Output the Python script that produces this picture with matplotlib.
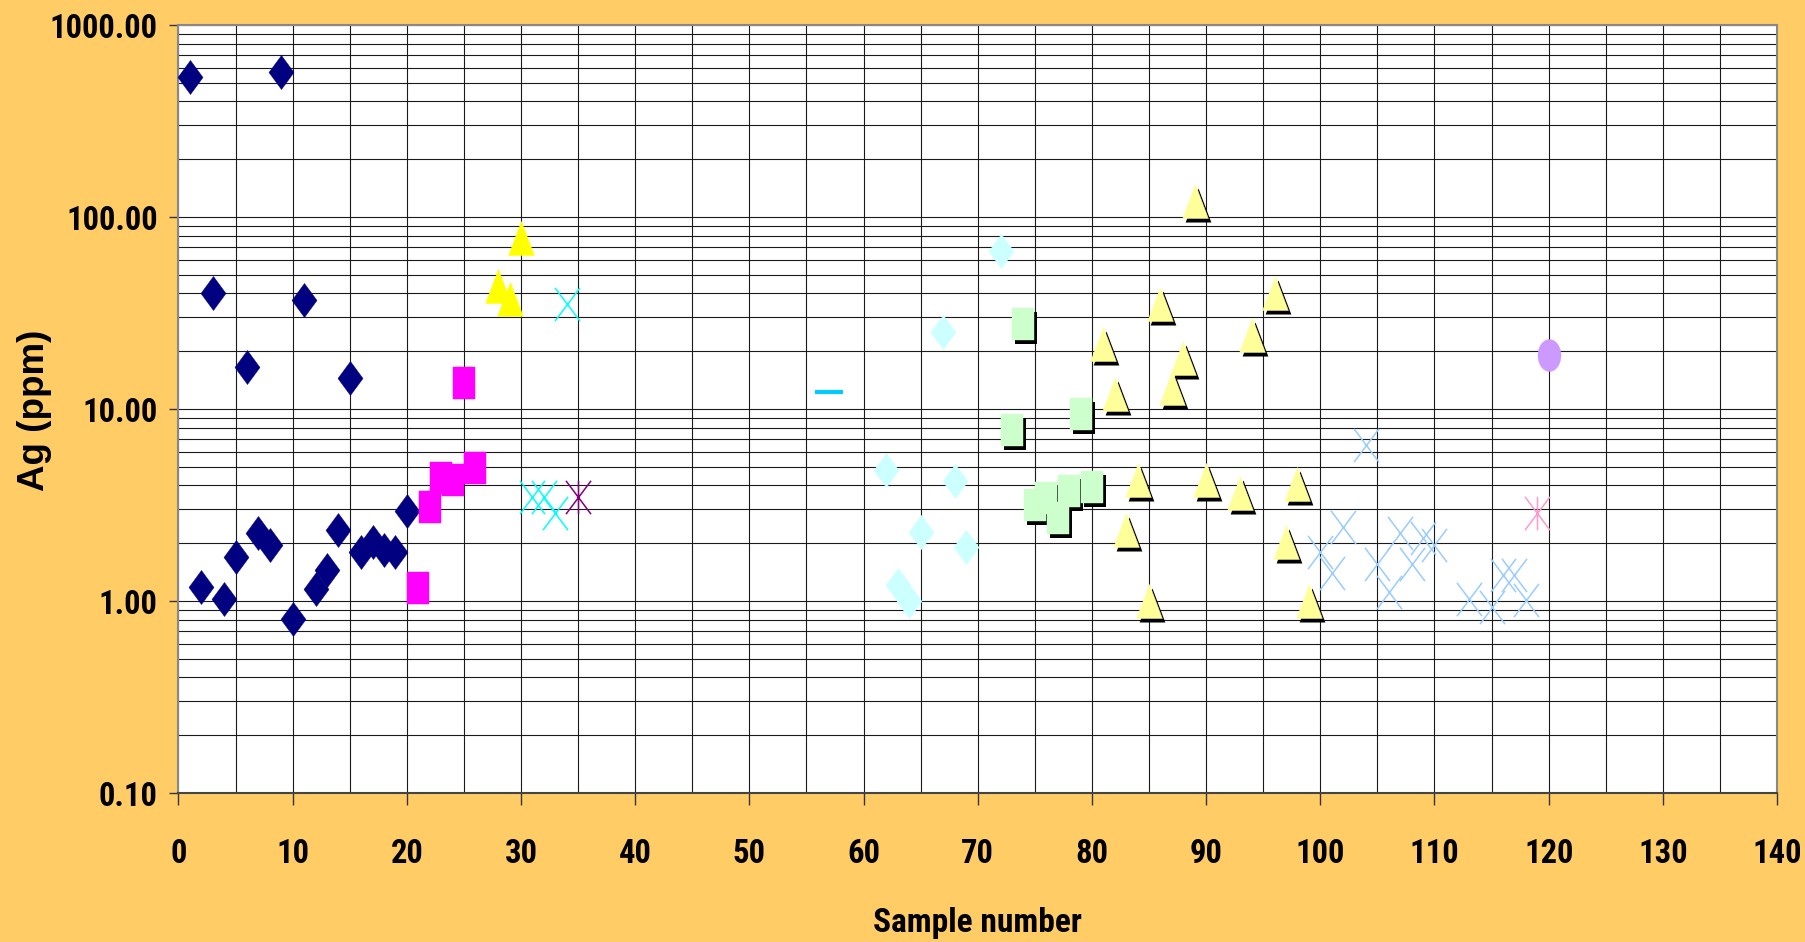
import numpy as np
import matplotlib
matplotlib.use("Agg")
import matplotlib.pyplot as plt
from matplotlib import font_manager
from matplotlib.path import Path
from matplotlib.transforms import offset_copy
from matplotlib.ticker import FixedLocator, MultipleLocator, FormatStrFormatter

# --- data (sample number, Ag ppm) ---
navy_x = list(range(1, 21))
navy_y = [537, 1.18, 40, 1.03, 1.69, 16.5, 2.25, 1.95, 566, 0.81,
          37, 1.16, 1.45, 2.35, 14.5, 1.79, 2.03, 1.84, 1.79, 2.96]
magenta_x = [21, 22, 23, 24, 25, 26]
magenta_y = [1.17, 3.08, 4.35, 4.25, 13.6, 4.9]
yellow_x = [28, 29, 30]
yellow_y = [43.7, 37.2, 78]
cyanx_x = [31, 32, 33, 34]
cyanx_y = [3.47, 3.47, 2.88, 35.2]
purple_x = [35]
purple_y = [3.47]
dash_x = [57]
dash_y = [12.2]
ltcyan_x = [62, 63, 64, 65, 67, 68, 69, 72]
ltcyan_y = [4.84, 1.21, 1.0, 2.30, 25.2, 4.2, 1.90, 66.2]
green_x = [73, 74, 75, 76, 77, 78, 79, 80]
green_y = [7.8, 27.7, 3.16, 3.42, 2.69, 3.73, 9.46, 3.94]
paley_x = [81, 82, 83, 84, 85, 86, 87, 88, 89, 90, 93, 94, 96, 97, 98, 99]
paley_y = [21.8, 11.9, 2.35, 4.28, 1.0, 35.1, 12.9, 18.5, 121, 4.28,
           3.65, 24.3, 40, 2.04, 4.06, 1.0]
ltblue_x = [100, 101, 102, 104, 105, 106, 107, 108, 109, 110, 113, 115, 116, 117, 118]
ltblue_y = [1.80, 1.40, 2.43, 6.53, 1.56, 1.12, 2.26, 1.56, 2.13, 1.95,
            1.03, 0.93, 1.37, 1.37, 1.01]
pink_x = [119]
pink_y = [2.88]
circle_x = [120]
circle_y = [19.0]

yticks = [0.1, 1, 10, 100, 1000]
xticks = list(range(0, 141, 10))


# look for a narrow / condensed bold face (the chart uses Arial Narrow bold)
def find_narrow():
    prefs = ['liberation sans narrow', 'arial narrow', 'roboto condensed',
             'open sans condensed', 'noto sans display', 'noto sans']
    cands = []
    for f in font_manager.fontManager.ttflist:
        name = f.name.lower()
        fn = f.fname.lower()
        narrowish = ('narrow' in name or 'condensed' in name or 'narrow' in fn
                     or 'condensed' in fn or str(f.stretch) in ('condensed', 'semi-condensed',
                                                                 'extra-condensed'))
        w = f.weight if isinstance(f.weight, int) else (700 if 'bold' in str(f.weight) else 400)
        if narrowish and w >= 600 and 'italic' not in fn and 'oblique' not in fn:
            rank = next((i for i, p in enumerate(prefs) if p in name or p in fn), len(prefs))
            cands.append((rank, 'semi' in fn, f.fname))
    if cands:
        cands.sort()
        return font_manager.FontProperties(fname=cands[0][2])
    return None

narrow_fp = find_narrow()

def style_text(t, size):
    if narrow_fp is not None:
        t.set_fontproperties(narrow_fp)
        t.set_fontsize(size)
    else:
        t.set_family(['Liberation Sans', 'DejaVu Sans'])
        t.set_fontweight('bold')
        t.set_fontsize(size * 0.8)

# --- tall (stretched) marker shapes ---
diamond = Path([(0, 1), (0.735, 0), (0, -1), (-0.735, 0), (0, 1)],
               [Path.MOVETO, Path.LINETO, Path.LINETO, Path.LINETO, Path.CLOSEPOLY])
square = Path([(-0.72, -1), (0.72, -1), (0.72, 1), (-0.72, 1), (-0.72, -1)],
              [Path.MOVETO, Path.LINETO, Path.LINETO, Path.LINETO, Path.CLOSEPOLY])
triangle = Path([(0, 1), (0.755, -1), (-0.755, -1), (0, 1)],
                [Path.MOVETO, Path.LINETO, Path.LINETO, Path.CLOSEPOLY])
cross = Path([(-0.75, -1), (0.75, 1), (-0.75, 1), (0.75, -1)],
             [Path.MOVETO, Path.LINETO, Path.MOVETO, Path.LINETO])
star = Path([(-0.75, -1), (0.75, 1), (-0.75, 1), (0.75, -1), (0, -1), (0, 1)],
            [Path.MOVETO, Path.LINETO, Path.MOVETO, Path.LINETO, Path.MOVETO, Path.LINETO])
uc = Path.unit_circle()
ellipse = Path(uc.vertices * np.array([0.72, 1.0]), uc.codes)

fig = plt.figure(figsize=(18.06, 9.42), dpi=100, facecolor='#FFCC66')
ax = fig.add_axes([178.5 / 1806, 1 - 793 / 942, (1777 - 178.5) / 1806, (793 - 25) / 942])
ax.set_facecolor('white')
ax.set_yscale('log')
ax.set_xlim(0, 140)
ax.set_ylim(0.1, 1000)

shadow = offset_copy(ax.transData, fig=fig, x=3, y=-4, units='dots')

def filled(x, y, path, color, ms, shade=False):
    if shade:
        ax.plot(x, y, ls='none', marker=path, ms=ms, mfc='black', mec='black',
                mew=0, transform=shadow, zorder=3, clip_on=False)
    ax.plot(x, y, ls='none', marker=path, ms=ms, mfc=color, mec=color,
            mew=0.3, zorder=4, clip_on=False)

def lines(x, y, path, color, ms, mew=1.1):
    ax.plot(x, y, ls='none', marker=path, ms=ms, mfc='none', mec=color,
            mew=mew, zorder=4, clip_on=False)

filled(navy_x, navy_y, diamond, '#000080', 24.5)
filled(magenta_x, magenta_y, square, '#FF00FF', 23)
filled(yellow_x, yellow_y, triangle, '#FFFF00', 24.5)
lines(cyanx_x, cyanx_y, cross, '#00FFFF', 24)
lines(purple_x, purple_y, star, '#800080', 24)
ax.plot(dash_x, dash_y, ls='none', marker='_', ms=19.5, mec='#00CCFF', mew=3, zorder=4)
filled(ltcyan_x, ltcyan_y, diamond, '#CCFFFF', 24.5)
filled(green_x, green_y, square, '#CCFFCC', 23, shade=True)
filled(paley_x, paley_y, triangle, '#FFFF99', 24.5, shade=True)
lines(ltblue_x, ltblue_y, cross, '#99CCFF', 24)
lines(pink_x, pink_y, star, '#FF99CC', 24)
filled(circle_x, circle_y, ellipse, '#CC99FF', 23)

# axes, ticks, grid
ax.yaxis.set_major_locator(FixedLocator(yticks))
ax.yaxis.set_major_formatter(FormatStrFormatter('%.2f'))
ax.yaxis.set_minor_locator(FixedLocator([m * d for d in [0.1, 1, 10, 100] for m in range(2, 10)]))
ax.xaxis.set_major_locator(FixedLocator(xticks))
ax.xaxis.set_minor_locator(MultipleLocator(5))
ax.grid(which='both', color='#1a1a1a', lw=0.8, zorder=1)
ax.set_axisbelow(True)
ax.tick_params(which='minor', length=0)
ax.tick_params(axis='y', which='major', direction='out', length=6.5, width=1,
               color='#333333', pad=8.5)
ax.tick_params(axis='x', which='major', direction='out', length=8.6, width=1,
               color='#333333', pad=24)
for lab in ax.get_xticklabels() + ax.get_yticklabels():
    style_text(lab, 23.5)
for side in ['left', 'top', 'right']:
    ax.spines[side].set_color('#888888')
    ax.spines[side].set_linewidth(1.5)
ax.spines['bottom'].set_color('#444444')
ax.spines['bottom'].set_linewidth(1.5)

xl = fig.text(977.7 / 1806, 1 - 932 / 942, 'Sample number', ha='center', va='baseline')
style_text(xl, 24)
fig.text(34 / 1806, 1 - 410 / 942, 'Ag (ppm)', rotation=90, ha='center', va='center',
         fontsize=26.5, fontweight='bold', family=['Liberation Sans', 'DejaVu Sans'])

fig.savefig('out.png', dpi=100, facecolor=fig.get_facecolor())
